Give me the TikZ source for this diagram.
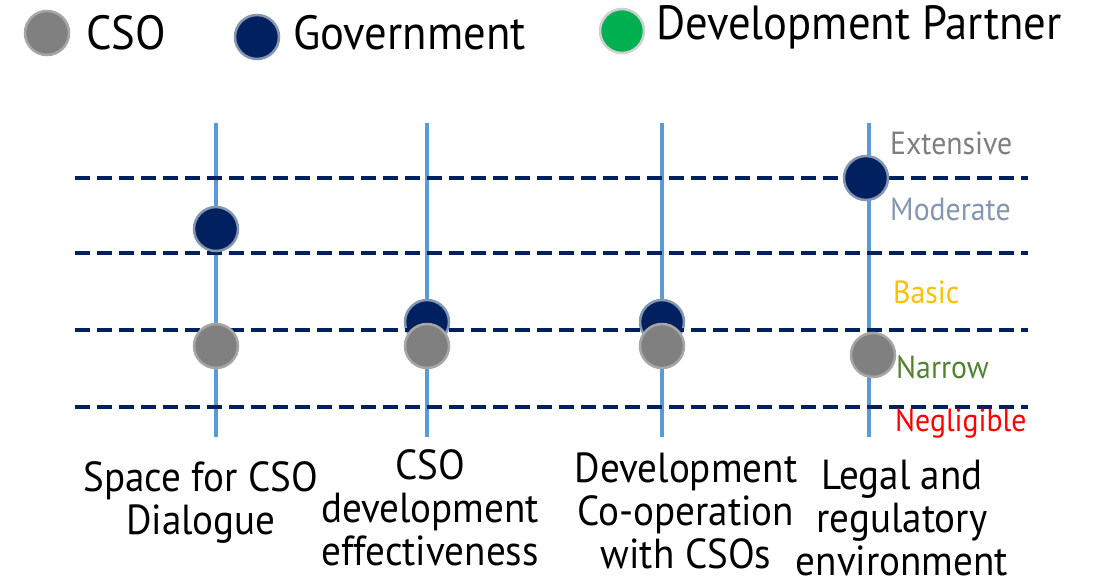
\documentclass[tikz,border=0pt]{standalone}
\usepackage{fontspec}
\setmainfont[FakeStretch=0.93]{PT Sans}
\definecolor{navy}{HTML}{002060}
\definecolor{navyrim}{HTML}{8497B0}
\definecolor{csogray}{HTML}{808080}
\definecolor{csorim}{HTML}{A6A6A6}
\definecolor{dpgreen}{HTML}{00B050}
\definecolor{dprim}{HTML}{D0D0D0}
\definecolor{axisblue}{HTML}{5B9BD5}
\definecolor{lvlgray}{HTML}{7F7F7F}
\definecolor{lvlmod}{HTML}{8497B0}
\definecolor{lvlbasic}{HTML}{FFC000}
\definecolor{lvlnarrow}{HTML}{548235}
\definecolor{lvlneg}{HTML}{FF0000}
\tikzset{
  govdot/.style={circle,fill=navy,draw=navyrim,line width=2.5pt,minimum size=44pt,inner sep=0pt},
  csodot/.style={circle,fill=csogray,draw=csorim,line width=2.5pt,minimum size=44pt,inner sep=0pt},
  dpdot/.style={circle,fill=dpgreen,draw=dprim,line width=2.5pt,minimum size=44pt,inner sep=0pt},
  axisline/.style={draw=axisblue,line width=4pt},
  levelline/.style={draw=navy,line width=4pt,dash pattern=on 15pt off 7pt},
  legendtext/.style={anchor=west,inner sep=0pt,font=\fontsize{48}{56}\selectfont},
  lvltext/.style={anchor=west,inner sep=0pt,font=\fontsize{32}{36}\selectfont},
  catlabel/.style={align=center,inner sep=0pt,anchor=north,font=\fontsize{42}{43}\selectfont},
}
\begin{document}
\begin{tikzpicture}[x=1pt,y=-1pt]
\useasboundingbox (0,0) rectangle (1097,580);
% legend
\node[csodot] (lc) at (47,33) {};
\node[legendtext] (lct) at (86,33) {CSO};
\node[govdot] (lg) at (257,37) {};
\node[legendtext] (lgt) at (293,33) {Government};
\node[dpdot] (ld) at (622,31) {};
\node[legendtext] (ldt) at (656,27) {Development Partner};
% axes
\foreach \n/\x in {a1/216,a2/427,a3/662,a4/869}{
  \coordinate (\n t) at (\x,123);
  \coordinate (\n b) at (\x,437);
  \draw[axisline] (\n t) -- (\n b);
}
\node[govdot] (g2) at (427,322) {};
\node[govdot] (g3) at (662,322) {};
% level lines
\foreach \n/\y in {l1/178,l2/253,l3/330,l4/407}{
  \coordinate (\n l) at (75,\y);
  \coordinate (\n r) at (1028,\y);
  \draw[levelline] (\n l) -- (\n r);
}
% dots
\node[govdot] (g1) at (216,229) {};
\node[govdot] (g4) at (866,178) {};
\node[csodot] (c1) at (216,346) {};
\node[csodot] (c2) at (427,346) {};
\node[csodot] (c3) at (662,346) {};
\node[csodot] (c4) at (873,355) {};
% level labels
\node[lvltext,text=lvlgray] (e) at (890,143) {Extensive};
\node[lvltext,text=lvlmod] (m) at (890,209) {Moderate};
\node[lvltext,text=lvlbasic] (b) at (893,292) {Basic};
\node[lvltext,text=lvlnarrow] (n) at (896,367) {Narrow};
\node[lvltext,text=lvlneg] (ng) at (895,424) {Negligible};
% category labels
\node[catlabel] (k1) at (201,461) {Space for CSO\\Dialogue};
\node[catlabel] (k2) at (430,449) {CSO\\development\\effectiveness};
\node[catlabel] (k3) at (686,453) {Development\\Co-operation\\with CSOs};
\node[catlabel] (k4) at (902,460) {Legal and\\regulatory\\environment};
\end{tikzpicture}
\end{document}
